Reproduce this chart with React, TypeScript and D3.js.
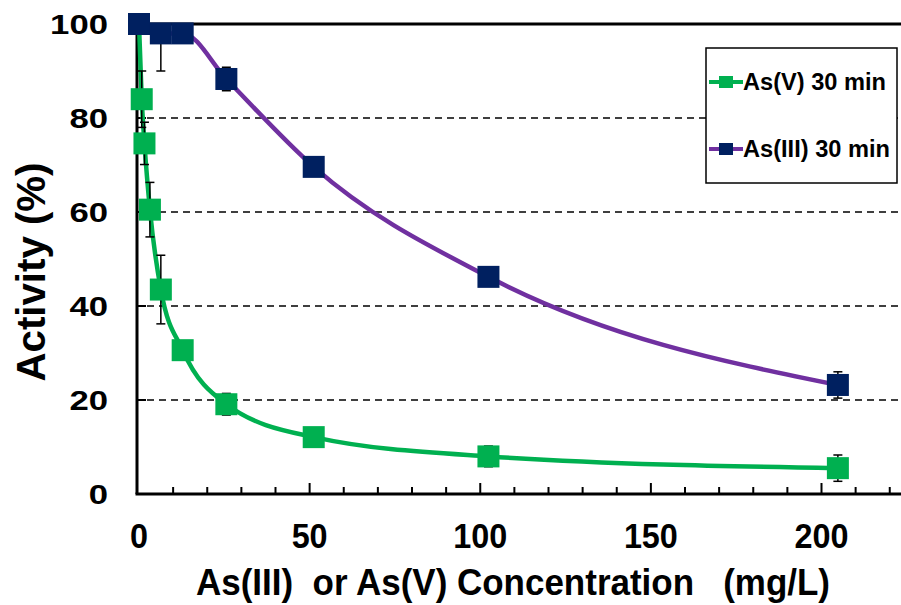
import React from "react";
import * as d3 from "d3";

// concentrations (mg/L) and activity (%)
const asVConc = [0, 0.8, 1.6, 3.2, 6.4, 12.8, 25.6, 51.2, 102.4, 204.8];
const asVActivity = [100, 84, 74.6, 60.5, 43.5, 30.6, 19.1, 12.1, 8, 5.5];
const asVErr = [0, 6, 4.5, 5.8, 7.3, 1.2, 2.3, 1, 2.2, 2.8];

const asIIIConc = [0, 6.4, 12.8, 25.6, 51.2, 102.4, 204.8];
const asIIIActivity = [100, 98, 98, 88.3, 69.6, 46.2, 23.2];
const asIIIErr = [0, 8, 0.5, 2.5, 1, 2, 2.8];

const xTickLabels = [0, 50, 100, 150, 200];
const yTickLabels = [0, 20, 40, 60, 80, 100];
const gridValues = [20, 40, 60, 80];
const legendLabels = ["As(V) 30 min", "As(III) 30 min"];

const GREEN = "#00b050";
const NAVY = "#002060";
const PURPLE = "#7030a0";
const FONT = "'Liberation Sans', Arial, sans-serif";

export default function App() {
  const W = 901, H = 605;
  const left = 137, top = 24, bottom = 494, right = 915;

  const x = d3.scaleLinear().domain([0, 200]).range([139, 821.5]);
  const y = d3.scaleLinear().domain([0, 100]).range([bottom, top]);

  const line = d3
    .line<[number, number]>()
    .x((d) => x(d[0]))
    .y((d) => y(d[1]))
    .curve(d3.curveMonotoneX);

  const green = asVConc.map((c, i) => [c, asVActivity[i]] as [number, number]);
  const navy = asIIIConc.map((c, i) => [c, asIIIActivity[i]] as [number, number]);

  const minorTicks = d3.range(10, 230, 10);
  const sq = 22;

  const errBars = (conc: number[], vals: number[], errs: number[], key: string) =>
    conc.map((c, i) =>
      errs[i] > 0 ? (
        <g key={key + i} stroke="#000" strokeWidth={1.5}>
          <line x1={x(c)} x2={x(c)} y1={y(vals[i] + errs[i])} y2={y(vals[i] - errs[i])} />
          <line x1={x(c) - 4.5} x2={x(c) + 4.5} y1={y(vals[i] + errs[i])} y2={y(vals[i] + errs[i])} />
          <line x1={x(c) - 4.5} x2={x(c) + 4.5} y1={y(vals[i] - errs[i])} y2={y(vals[i] - errs[i])} />
        </g>
      ) : null
    );

  const squares = (conc: number[], vals: number[], color: string, key: string) =>
    conc.map((c, i) => (
      <rect key={key + i} x={x(c) - sq / 2} y={y(vals[i]) - sq / 2} width={sq} height={sq} fill={color} />
    ));

  return (
    <svg
      width={W}
      height={H}
      style={{ position: "absolute", left: 0, top: 0, background: "#fff" }}
      fontFamily={FONT}
      fontWeight="bold"
    >
      <defs>
        <clipPath id="plotClip">
          <rect x={left} y={top} width={right - left} height={bottom - top} />
        </clipPath>
      </defs>
      <rect x={0} y={0} width={W} height={H} fill="#fff" />

      {/* grid */}
      {gridValues.map((v) => (
        <line key={"g" + v} x1={left + 10} x2={right} y1={y(v)} y2={y(v)} stroke="#000" strokeWidth={1.4} strokeDasharray="7,5" />
      ))}

      {/* frame */}
      <line x1={left} x2={right} y1={top} y2={top} stroke="#000" strokeWidth={3} />
      <line x1={left} x2={left} y1={top} y2={bottom} stroke="#000" strokeWidth={3} />
      <line x1={left - 1.5} x2={right} y1={bottom} y2={bottom} stroke="#000" strokeWidth={3} />

      {/* y ticks */}
      {yTickLabels.map((v) => (
        <line key={"yt" + v} x1={left} x2={left + 9} y1={y(v)} y2={y(v)} stroke="#000" strokeWidth={2} />
      ))}
      {/* x ticks */}
      {minorTicks.map((v) => (
        <line key={"xt" + v} x1={x(v)} x2={x(v)} y1={bottom} y2={bottom - (v % 50 === 0 ? 11 : 7)} stroke="#000" strokeWidth={2} />
      ))}

      {/* tick labels */}
      {yTickLabels.map((v) => (
        <text key={"yl" + v} x={108} y={y(v) + 10} textAnchor="end" fontSize={28} fill="#000"
          textLength={String(v).length * 19.3} lengthAdjust="spacingAndGlyphs">{v}</text>
      ))}
      {xTickLabels.map((v) => (
        <text key={"xl" + v} x={x(v)} y={548} textAnchor="middle" fontSize={35} fill="#000"
          textLength={String(v).length * 18} lengthAdjust="spacingAndGlyphs">{v}</text>
      ))}

      {/* axis titles */}
      <text x={196} y={595} fontSize={37} fill="#000" textLength={634} lengthAdjust="spacingAndGlyphs"
        style={{ whiteSpace: "pre" }}>{"As(III)  or As(V) Concentration   (mg/L)"}</text>
      <text transform="translate(45,272) rotate(-90)" textAnchor="middle" fontSize={41} fill="#000"
        textLength={219} lengthAdjust="spacingAndGlyphs">Activity (%)</text>

      {/* curves */}
      <path d={line(green) || ""} fill="none" stroke={GREEN} strokeWidth={4.5} />
      <path d={line(navy) || ""} fill="none" stroke={PURPLE} strokeWidth={4.5} />

      {/* error bars */}
      <g clipPath="url(#plotClip)">
        {errBars(asVConc, asVActivity, asVErr, "ev")}
        {errBars(asIIIConc, asIIIActivity, asIIIErr, "ei")}
      </g>

      {/* markers */}
      {squares(asVConc, asVActivity, GREEN, "sv")}
      {squares(asIIIConc, asIIIActivity, NAVY, "si")}

      {/* legend */}
      <rect x={706} y={48} width={191} height={135} fill="#fff" stroke="#000" strokeWidth={1.5} />
      {legendLabels.map((label, i) => {
        const ly = i === 0 ? 82 : 149;
        const lineColor = i === 0 ? GREEN : PURPLE;
        const markColor = i === 0 ? GREEN : NAVY;
        return (
          <g key={label}>
            <line x1={709} x2={743} y1={ly} y2={ly} stroke={lineColor} strokeWidth={4} />
            <rect x={726 - 7} y={ly - 6} width={14} height={12} fill={markColor} />
            <text x={743} y={ly + 8} fontSize={23} fill="#000"
              textLength={i === 0 ? 143 : 147} lengthAdjust="spacingAndGlyphs">{label}</text>
          </g>
        );
      })}
    </svg>
  );
}
